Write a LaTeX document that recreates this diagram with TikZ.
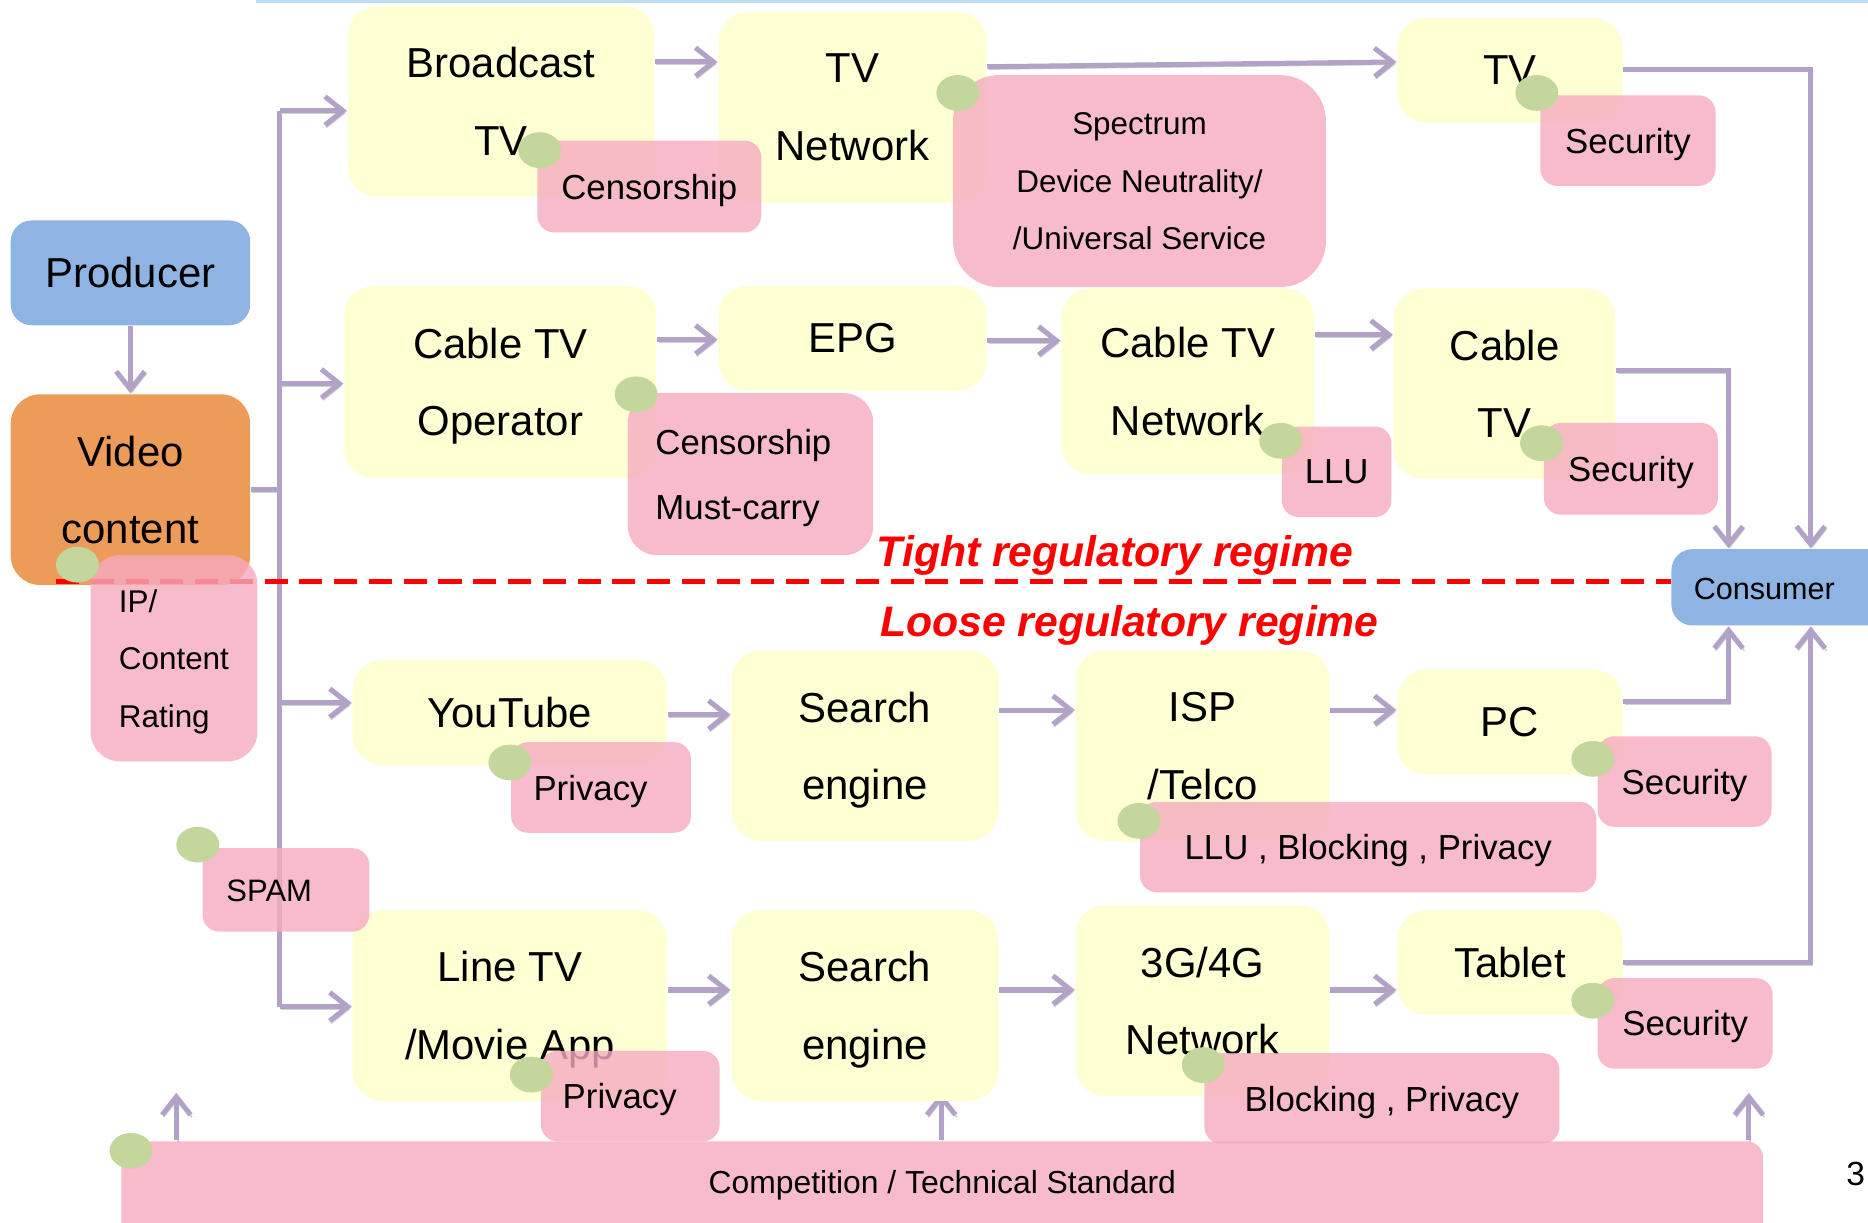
\documentclass[tikz,border=0pt]{standalone}
\usepackage{fontspec}
\setmainfont{Liberation Sans}
\usetikzlibrary{arrows.meta,shapes.geometric}
\definecolor{ylw}{RGB}{255,255,212}
\definecolor{pnk}{RGB}{245,170,191}
\definecolor{grn}{RGB}{195,214,155}
\definecolor{blu}{RGB}{142,180,227}
\definecolor{org}{RGB}{236,156,88}
\definecolor{arc}{RGB}{179,162,199}
\definecolor{lblue}{RGB}{190,220,240}
\newcommand\fbig{\fontsize{10}{18.5}\selectfont}
\newcommand\fmid{\fontsize{8.3}{15.4}\selectfont}
\newcommand\fsm{\fontsize{7.5}{13.7}\selectfont}
\newcommand\bx[7]{%
 \pgfmathsetmacro\bxcx{(#3+#5)/2}%
 \pgfmathsetmacro\bxcy{(#4+#6)/2}%
 \pgfmathsetmacro\bxw{(#5-#3)*0.01}%
 \pgfmathsetmacro\bxh{(#6-#4)*0.01}%
 \node[#2, minimum width=\bxw cm, minimum height=\bxh cm] (#1) at (\bxcx,\bxcy) {#7};}
\pgfdeclarelayer{bg}
\pgfsetlayers{bg,main}
\begin{document}
\begin{tikzpicture}[x=0.01cm,y=-0.01cm,
  ybox/.style={fill=ylw, rounded corners=7pt, align=center, font=\fbig, inner sep=0pt, text depth=0pt},
  pbox/.style={fill=pnk, fill opacity=0.8, text opacity=1, rounded corners=4pt, align=center, font=\fmid, inner sep=0pt, text depth=0pt},
  bbox/.style={fill=blu, rounded corners=5pt, align=center, font=\fbig, inner sep=0pt},
  obox/.style={fill=org, rounded corners=7pt, align=center, font=\fbig, inner sep=0pt, text depth=0pt},
  dot/.style={shape=ellipse, fill=grn, minimum width=0.36cm, minimum height=0.30cm, inner sep=0pt},
  shd/.style={preaction={draw=black!18, transform canvas={xshift=0.35pt,yshift=-0.55pt}}},
  line/.style={draw=arc, line width=1.2pt, shd},
  arr/.style={draw=arc, line width=1.2pt, shd, -{Straight Barb[length=4.3pt,width=6.8pt]}},
  regime/.style={text=red, font=\fontsize{10.2}{12}\selectfont\bfseries\itshape}]
\useasboundingbox (0,0) rectangle (1568,1026);
\draw[lblue, line width=0.8pt] (215,1) -- (1568,1);

% blue / orange boxes
\bx{prod}{bbox}{9}{185}{210}{273}{Producer}
\bx{vc}{obox}{9}{331}{210}{491}{Video\\content}
\bx{cons}{bbox}{1403}{461}{1600}{525}{}
\node[font=\fontsize{7.3}{9}\selectfont] (constext) at (1481,494) {Consumer};

% yellow boxes
\bx{bctv}{ybox}{292}{5}{549}{165}{Broadcast\\TV}
\bx{tvn}{ybox}{603}{10}{828}{170}{TV\\Network}
\bx{tv}{ybox}{1173}{15}{1362}{103}{TV}
\bx{cop}{ybox}{289}{240}{551}{401}{Cable TV\\Operator}
\bx{epg}{ybox}{603}{240}{828}{328}{EPG}
\bx{ctn}{ybox}{891}{242}{1103}{398}{Cable TV\\Network}
\bx{ctv}{ybox}{1170}{242}{1356}{402}{Cable\\TV}
\bx{yt}{ybox}{296}{554}{560}{642}{YouTube}
\bx{se1}{ybox}{614}{546}{838}{706}{Search\\engine}
\bx{isp}{ybox}{903}{546}{1116}{706}{ISP\\/Telco}
\bx{pc}{ybox}{1173}{562}{1362}{650}{PC}
\bx{ltv}{ybox}{296}{764}{560}{924}{Line TV\\/Movie App}
\bx{se2}{ybox}{614}{764}{838}{924}{Search\\engine}
\bx{g34}{ybox}{903}{760}{1116}{920}{3G/4G\\Network}
\bx{tab}{ybox}{1173}{764}{1362}{852}{Tablet}

% regime divider
\coordinate (dl) at (47,488);
\draw[red, line width=1.2pt, dash pattern=on 5.5pt off 2.8pt] (dl) -- (dl -| cons.west);

% pink boxes
\bx{cen1}{pbox}{451}{118}{639}{195}{Censorship}
\bx{spec}{pbox, font=\fsm, rounded corners=11pt}{800}{63}{1113}{241}{Spectrum\\Device Neutrality/\\/Universal Service}
\bx{sec1}{pbox}{1293}{80}{1440}{156}{Security}
\bx{cen2}{pbox, align=left, rounded corners=7pt}{527}{330}{733}{466}{Censorship\hspace*{3.4pt}\\Must-carry}
\bx{llu}{pbox}{1076}{358}{1168}{434}{LLU}
\bx{sec2}{pbox}{1296}{355}{1442}{432}{Security}
\bx{ip}{pbox, font=\fsm, align=left, rounded corners=7pt}{76}{466}{216}{639}{IP/\\Content\hspace*{1.2pt}\\Rating}
\bx{prv1}{pbox}{429}{623}{580}{699}{Privacy\hspace*{5pt}}
\bx{sec3}{pbox}{1341}{618}{1487}{694}{Security}
\bx{lbp}{pbox}{957}{673}{1340}{749}{LLU , Blocking , Privacy}
\bx{spam}{pbox}{170}{712}{310}{782}{}
\node[font=\fontsize{7.4}{9}\selectfont] (spamtext) at (226,748) {SPAM};
\bx{prv2}{pbox}{454}{882}{604}{958}{Privacy\hspace*{5pt}}
\bx{sec4}{pbox}{1341}{821}{1488}{897}{Security}
\bx{bp}{pbox}{1011}{884}{1309}{960}{Blocking , Privacy}
\bx{comp}{pbox}{102}{958}{1480}{1045}{}
\node[font=\fontsize{7.6}{9}\selectfont] (comptext) at (791,995) {Competition / Technical Standard};

% green dots
\node[dot] (g1) at (453,126) {};
\node[dot] (g2) at (804,78) {};
\node[dot] (g3) at (1290,78) {};
\node[dot] (g4) at (534,331) {};
\node[dot] (g5) at (1075,370) {};
\node[dot] (g6) at (1294,372) {};
\node[dot] (g7) at (65,474) {};
\node[dot] (g8) at (428,640) {};
\node[dot] (g9) at (1337,637) {};
\node[dot] (g10) at (956,689) {};
\node[dot] (g11) at (166,709) {};
\node[dot] (g12) at (446,902) {};
\node[dot] (g13) at (1010,894) {};
\node[dot] (g14) at (1337,840) {};
\node[dot] (g15) at (110,966) {};

% regime labels
\node[regime] (tight) at (936,466) {Tight regulatory regime};
\node[regime] (loose) at (948,525) {Loose regulatory regime};
\node[anchor=east, font=\fontsize{8}{9}\selectfont, inner sep=0.5pt] (pg) at (1568,985) {3};

% connectors
\coordinate (t1) at (235,93);
\coordinate (t2) at (235,322);
\coordinate (t3) at (235,590);
\coordinate (t4) at (235,845);
\coordinate (cl) at (1451,0);
\coordinate (cr) at (1520,0);
\begin{pgfonlayer}{bg}
\draw[arr] (prod.south) -- (vc.north);
\draw[line] (vc.east) -- (vc.east -| t1);
\draw[line] (t1) -- (t4);
\draw[arr] (t1) -- (t1 -| bctv.west);
\draw[arr] (t2) -- (t2 -| cop.west);
\draw[arr] (t3) -- (t3 -| yt.west);
\draw[arr] (t4) -- (t4 -| ltv.west);
\draw[arr] (bctv.east |- 0,52) -- (tvn.west |- 0,52);
\draw[arr] (tvn.east |- 0,56) -- (tv.west |- 0,52);
\draw[arr] (tv.east |- 0,58) -| (cr |- cons.north);
\draw[arr] (cop.east |- 0,285) -- (epg.west |- 0,285);
\draw[arr] (epg.east |- 0,286) -- (ctn.west |- 0,286);
\draw[arr] (ctn.east |- 0,281) -- (ctv.west |- 0,281);
\draw[arr] (ctv.east |- 0,311) -| (cl |- cons.north);
\draw[arr] (yt.east |- 0,600) -- (se1.west |- 0,600);
\draw[arr] (se1.east |- 0,596) -- (isp.west |- 0,596);
\draw[arr] (isp.east |- 0,596) -- (pc.west |- 0,596);
\draw[arr] (pc.east |- 0,589) -| (cl |- cons.south);
\draw[arr] (ltv.east |- 0,831) -- (se2.west |- 0,831);
\draw[arr] (se2.east |- 0,831) -- (g34.west |- 0,831);
\draw[arr] (g34.east |- 0,831) -- (tab.west |- 0,831);
\draw[arr] (tab.east |- 0,808) -| (cr |- cons.south);
\draw[arr] (comp.north -| 148,0) -- ++(0,-40);
\draw[arr] (comp.north -| 790,0) -- ++(0,-40);
\draw[arr] (comp.north -| 1468,0) -- ++(0,-40);
\end{pgfonlayer}
\end{tikzpicture}
\end{document}
